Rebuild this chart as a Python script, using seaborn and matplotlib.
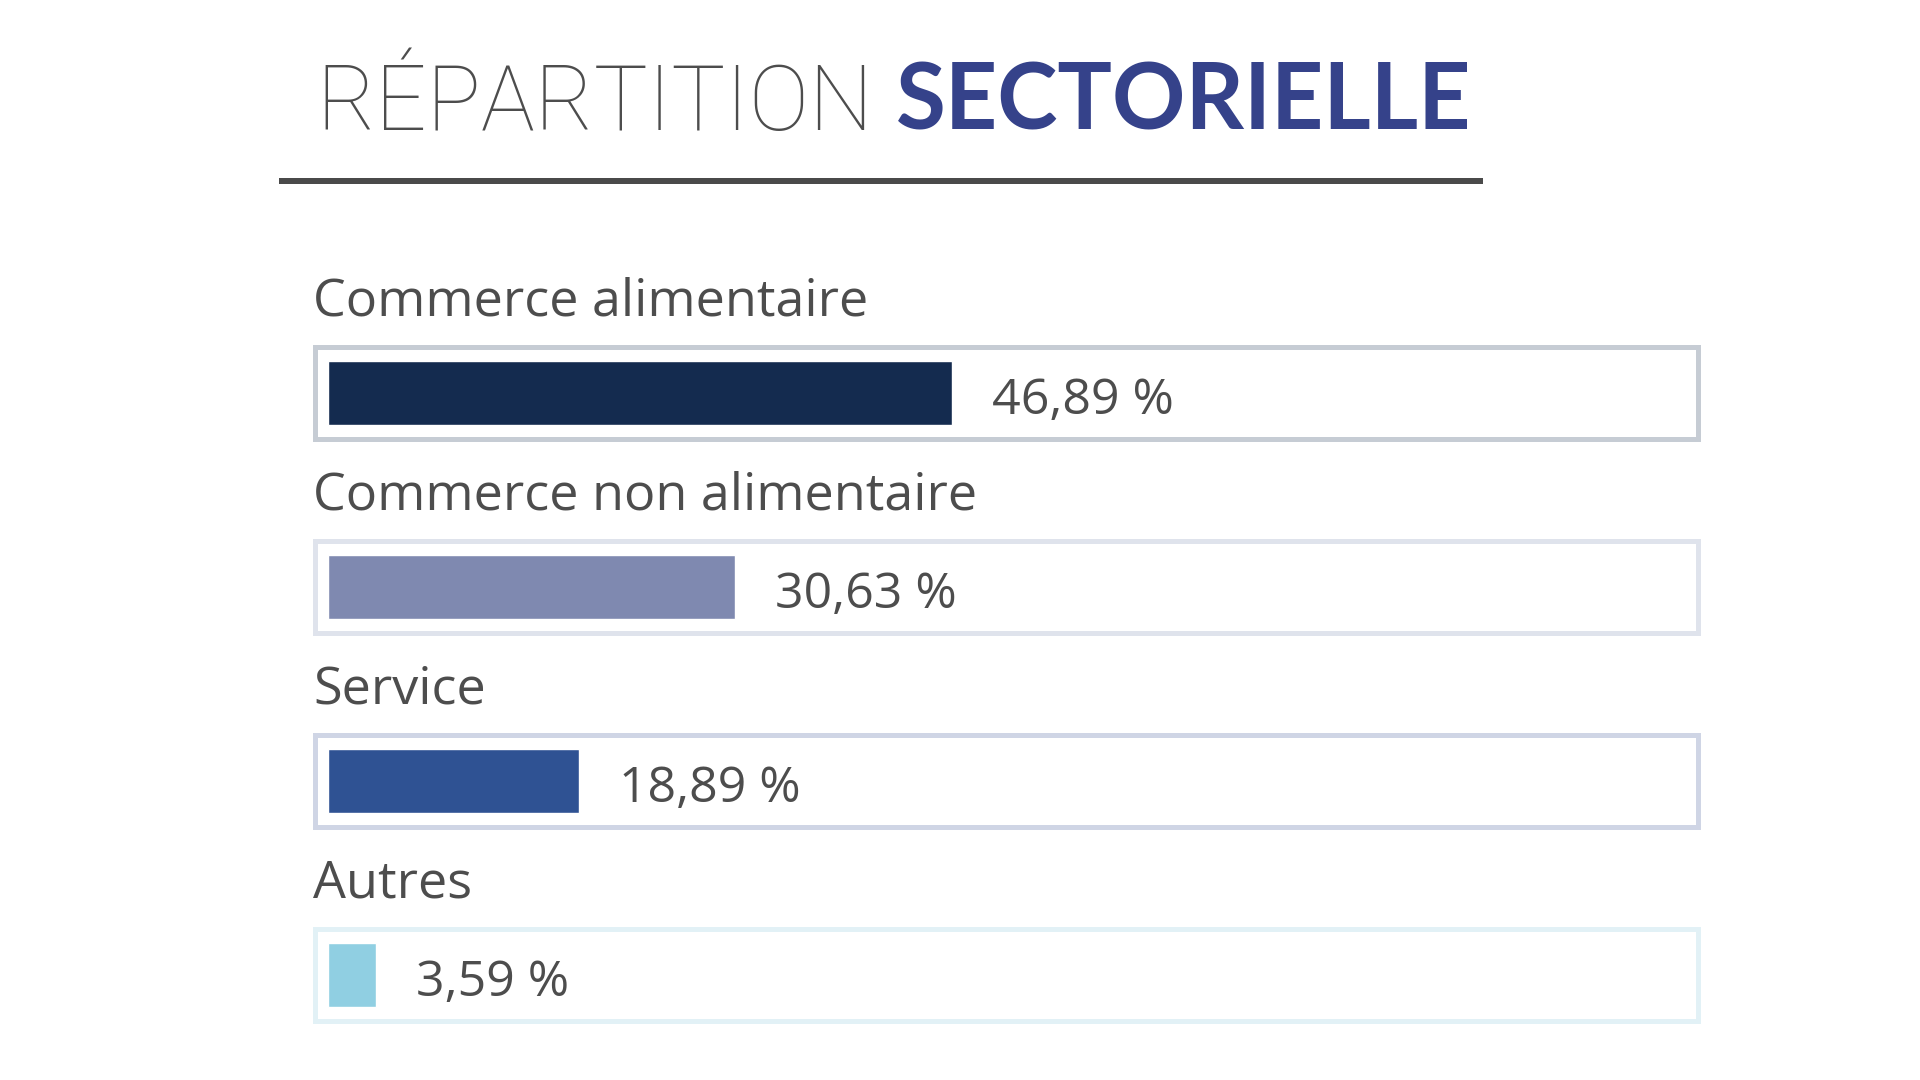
import matplotlib
matplotlib.use("Agg")
import matplotlib.pyplot as plt
import matplotlib.transforms as mtransforms
from matplotlib.patches import Rectangle
import seaborn as sns
import pandas as pd

# ---- data ----
categories = ["Commerce alimentaire", "Commerce non alimentaire", "Service", "Autres"]
values = [46.89, 30.63, 18.89, 3.59]
value_labels = ["46,89 %", "30,63 %", "18,89 %", "3,59 %"]
title_light = "RÉPARTITION"
title_bold = "SECTORIELLE"

bar_colors = ["#142b4f", "#7f89b0", "#2f5293", "#90cfe2"]
frame_colors = ["#c6ccd4", "#dfe3ec", "#cfd5e5", "#e2f1f6"]
text_gray = "#4d4d4d"
navy = "#35428a"

sns.set_theme(style="white")
plt.rcParams["font.family"] = ["Open Sans", "DejaVu Sans"]

W, H = 1920, 1080
fig = plt.figure(figsize=(W / 100, H / 100), dpi=100)
fig.patch.set_facecolor("white")

# axes: x from 313px to 1700px, rows spaced 194px, first centre at 393px
ax_left, ax_right = 313, 1700
row = 194
top_px = 393 - row / 2
ax = fig.add_axes([ax_left / W, 1 - (top_px + 4 * row) / H,
                   (ax_right - ax_left) / W, 4 * row / H])

df = pd.DataFrame({"cat": categories, "val": values})
sns.barplot(data=df, x="val", y="cat", hue="cat", palette=bar_colors,
            order=categories, hue_order=categories, width=0.33,
            legend=False, ax=ax, saturation=1)

px_per_unit = 13.3
ax.set_xlim(-15 / px_per_unit, (ax_right - ax_left - 15) / px_per_unit)
ax.set_ylim(3.5, -0.5)
ax.axis("off")

trans = mtransforms.blended_transform_factory(ax.transAxes, ax.transData)
frame_h = 0.475
for i, (cat, v, lab) in enumerate(zip(categories, values, value_labels)):
    ax.add_patch(Rectangle((0.0015, i - frame_h / 2), 0.997, frame_h,
                           transform=trans, fill=False,
                           edgecolor=frame_colors[i], linewidth=3.6,
                           zorder=0, clip_on=False))
    ax.text(0.0, i - 0.40, cat, transform=trans, ha="left", va="baseline",
            fontsize=37.5, color=text_gray, clip_on=False)
    ax.text(v + 40 / px_per_unit, i + 0.108, lab, ha="left", va="baseline",
            fontsize=36, color=text_gray)

# title
fig.text(316 / W, 1 - 130 / H, title_light, ha="left", va="baseline",
         fontsize=65, color=text_gray, fontweight="light",
         family=["Roboto", "DejaVu Sans"])
fig.text(896 / W, 1 - 130 / H, title_bold, ha="left", va="baseline",
         fontsize=65.5, color=navy, fontweight="bold",
         family=["Lato", "DejaVu Sans"])

# rule under title
fig.patches.append(Rectangle((279 / W, 1 - 184 / H), (1483 - 279) / W, 6 / H,
                             transform=fig.transFigure, facecolor="#4a4a4a",
                             edgecolor="none"))

fig.savefig("out.png", dpi=100, facecolor="white")
